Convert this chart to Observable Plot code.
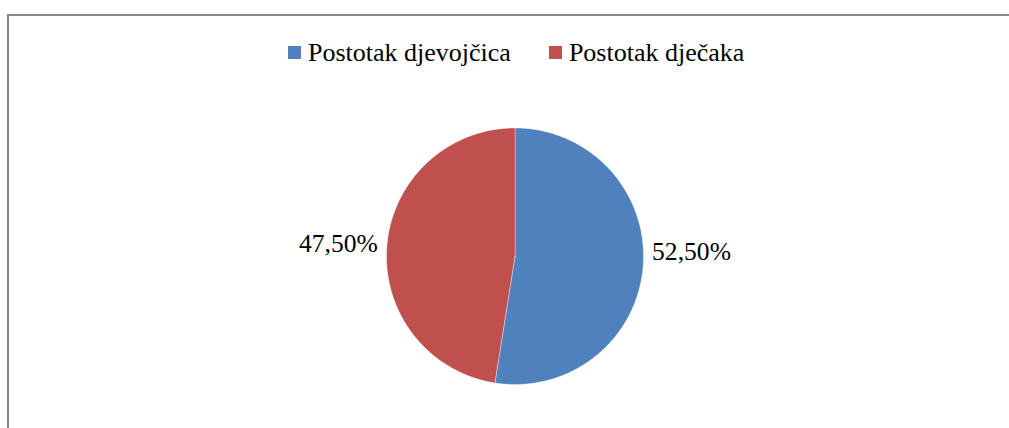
<!DOCTYPE html>
<html>
<head>
<meta charset="utf-8">
<script src="https://cdn.jsdelivr.net/npm/d3@7"></script>
<script src="https://cdn.jsdelivr.net/npm/@observablehq/plot@0.6"></script>
<style>
  html, body { margin: 0; padding: 0; background: #fff; }
  body { width: 1009px; height: 428px; position: relative; overflow: hidden; font-family: "Liberation Serif", "Times New Roman", serif; }
  #frame { position: absolute; left: 7px; top: 14px; width: 1010px; height: 430px; border-top: 2px solid #888; border-left: 2px solid #888; box-sizing: border-box; }
  #legend { position: absolute; left: 288px; top: 40px; display: flex; align-items: flex-start; font-size: 26px; line-height: 26px; color: #000; white-space: nowrap; }
  .item { display: flex; align-items: flex-start; }
  .sw { width: 13px; height: 13px; margin-right: 7px; margin-top: 6px; }
  #chart { position: absolute; left: 0; top: 80px; }
</style>
</head>
<body>
<div id="frame"></div>
<div id="legend"></div>
<div id="chart"></div>
<script>
const categories = ["Postotak djevojčica", "Postotak dječaka"];
const values = [52.5, 47.5];
const labels = ["52,50%", "47,50%"];
const colors = ["#4F81BD", "#C0504D"];

const data = categories.map((c, i) => ({key: c, value: values[i], label: labels[i]}));
const arcs = d3.pie().sort(null).value(d => d.value)(data);

// polygon points for each slice (unit circle, angle clockwise from 12 o'clock)
const pts = [];
arcs.forEach(a => {
  const n = Math.max(2, Math.ceil((a.endAngle - a.startAngle) / 0.01));
  pts.push({key: a.data.key, x: 0, y: 0});
  for (let k = 0; k <= n; k++) {
    const t = a.startAngle + (a.endAngle - a.startAngle) * k / n;
    pts.push({key: a.data.key, x: Math.sin(t), y: Math.cos(t)});
  }
  pts.push({key: a.data.key, x: 0, y: 0});
});

const lab = arcs.map(a => {
  const m = (a.startAngle + a.endAngle) / 2;
  const right = Math.sin(m) >= 0;
  return {label: a.data.label, x: 1.07 * Math.sin(m), y: Math.cos(m), right};
});

const W = 1009, H = 348;
const chart = Plot.plot({
  width: W,
  height: H,
  marginLeft: 386,
  marginRight: W - 643,
  marginTop: 47.5,
  marginBottom: H - 304,
  x: {domain: [-1, 1], axis: null},
  y: {domain: [-1, 1], axis: null},
  color: {domain: categories, range: colors},
  style: {fontFamily: "'Liberation Serif', 'Times New Roman', serif", background: "transparent"},
  marks: [
    Plot.line(pts, {x: "x", y: "y", z: "key", fill: "key", stroke: "#ffffff", strokeWidth: 0.6, strokeOpacity: 0.6, curve: "linear-closed"}),
    Plot.text(lab.filter(d => d.right), {x: "x", y: "y", text: "label", textAnchor: "start", dx: 0, dy: -15, fontSize: 25.6, fill: "#000"}),
    Plot.text(lab.filter(d => !d.right), {x: "x", y: "y", text: "label", textAnchor: "end", dx: 0, dy: -2, fontSize: 25.6, fill: "#000"})
  ]
});
document.getElementById("chart").appendChild(chart);

const legend = document.getElementById("legend");
categories.forEach((c, i) => {
  const it = document.createElement("div");
  it.className = "item";
  if (i > 0) it.style.marginLeft = "38px";
  const sw = document.createElement("div");
  sw.className = "sw";
  sw.style.background = colors[i];
  const tx = document.createElement("span");
  tx.textContent = c;
  it.appendChild(sw);
  it.appendChild(tx);
  legend.appendChild(it);
});
</script>
</body>
</html>
